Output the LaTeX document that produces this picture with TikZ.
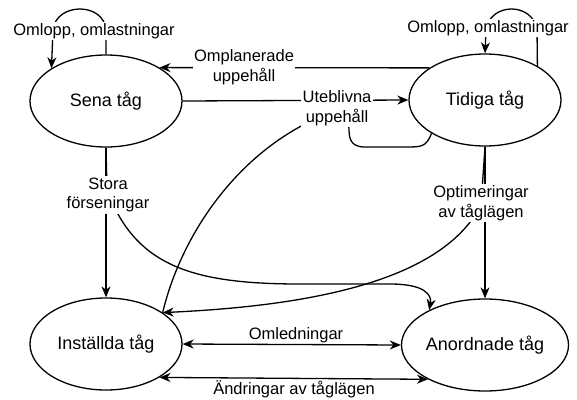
\documentclass[tikz,border=0pt]{standalone}
\usepackage{fontspec}
\setmainfont{Liberation Sans}
\usetikzlibrary{arrows.meta,shapes.geometric}

\begin{document}
\begin{tikzpicture}[x=1pt, y=-1pt, line width=1.3pt,
    >={Stealth[length=11pt, width=9pt, inset=3.5pt]},
    tillstand/.style={draw, ellipse, minimum width=152pt, minimum height=92pt, inner sep=0pt, font=\fontsize{18}{21}\selectfont},
    etikett/.style={fill=white, align=center, inner sep=1.5pt, font=\fontsize{16.5}{19.5}\selectfont}]
    \useasboundingbox (0, 0) rectangle (577, 399);

    \node [tillstand] (sena) at (106, 101) {Sena tåg};
    \node [tillstand] (tidiga) at (485, 100) {Tidiga tåg};
    \node [tillstand] (installda) at (106, 344) {Inställda tåg};
    \node [tillstand] (anordnade) at (485, 345) {Anordnade tåg};

    \draw [->] (sena.north) -- (106, 30) .. controls (104, 2) and (56, 2) .. (53, 30) -- (sena.149);
    \draw [->] (tidiga.33) -- (537, 30) .. controls (533, 2) and (490, 2) .. (486, 30) -- (tidiga.north);

    \draw [->] (tidiga.150) -- (sena.32);
    \draw [->] (sena.east) -- (tidiga.west);
    \draw (tidiga.212) .. controls (426, 147) and (422, 147) .. (405, 147) -- (365, 147)
        .. controls (350, 147) and (349, 138) .. (349, 128)
        .. controls (349, 118) and (315, 118) .. (305, 124)
        .. controls (230, 163) and (180, 240) .. (installda.29);

    \draw [->] (sena.south) -- (installda.north);
    \draw [->] (sena.south) -- (107, 190) .. controls (135, 265) and (190, 284) .. (300, 284) -- (390, 284)
        .. controls (425, 284) and (432, 295) .. (anordnade.148);

    \draw [->] (tidiga.south) -- (anordnade.north);
    \draw [->] (tidiga.south) -- (481, 205) .. controls (445, 275) and (330, 305) .. (installda.29);

    \draw [<->] (installda.east) -- (anordnade.west);
    \draw [<->] (installda.-32) -- (anordnade.211);

    \node [etikett] (loopsena) at (94, 31) {Omlopp, omlastningar};
    \node [etikett] (looptidiga) at (488, 28) {Omlopp, omlastningar};
    \node [etikett] (omplanerade) at (244, 67) {Omplanerade\\uppehåll};
    \node [etikett] (uteblivna) at (337, 108) {Uteblivna\\uppehåll};
    \node [etikett] (stora) at (108, 195) {Stora\\förseningar};
    \node [etikett] (optimeringar) at (481, 203) {Optimeringar\\av tåglägen};
    \node [etikett, fill=none] (omledningar) at (296, 335) {Omledningar};
    \node [etikett, fill=none] (andringar) at (294, 389) {Ändringar av tåglägen};
\end{tikzpicture}
\end{document}
